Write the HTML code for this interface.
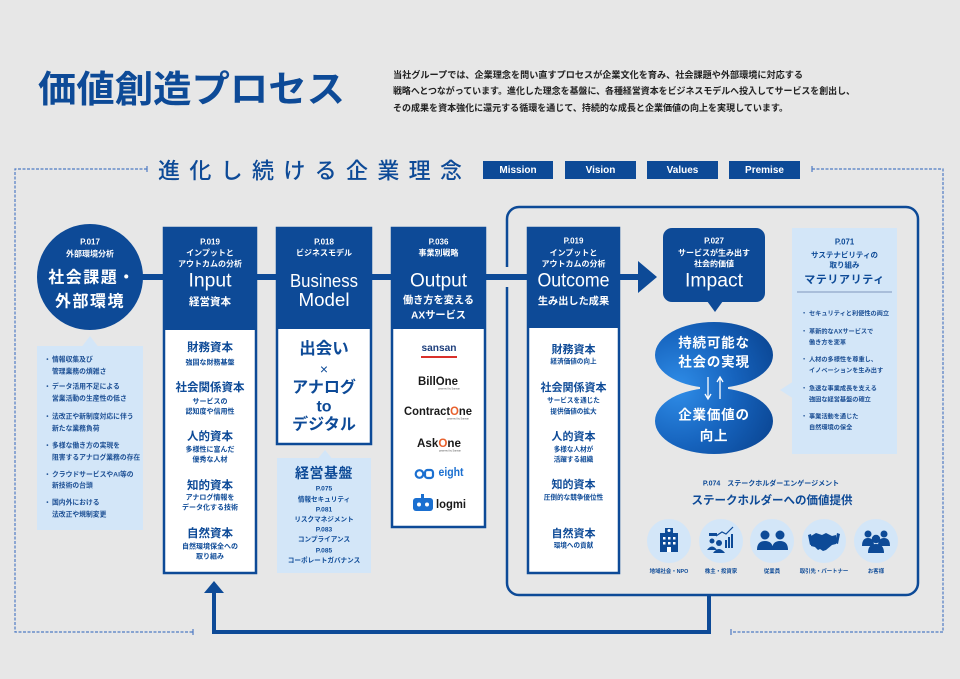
<!DOCTYPE html>
<html><head><meta charset="utf-8"><style>
html,body{margin:0;padding:0;background:#e7e7e7;}
svg{display:block;}
text{font-family:"Liberation Sans","Noto Sans CJK JP",sans-serif;}
.w{fill:#fff;}
.b{fill:#0d4a97;}
.c{text-anchor:middle;dominant-baseline:central;}
.s{text-anchor:start;dominant-baseline:central;}
.bold{font-weight:700;}
</style></head><body>
<svg width="960" height="679" viewBox="0 0 960 679" xmlns="http://www.w3.org/2000/svg">
<defs>
<radialGradient id="g1" gradientUnits="userSpaceOnUse" cx="678" cy="388" r="105">
<stop offset="0" stop-color="#2f8de8"/>
<stop offset="0.55" stop-color="#1663bd"/>
<stop offset="1" stop-color="#0b4795"/>
</radialGradient>
</defs>
<rect width="960" height="679" fill="#e7e7e7"/>

<!-- Title -->
<text x="38" y="102" font-size="37" font-weight="700" fill="#0d4a97" textLength="307" lengthAdjust="spacingAndGlyphs">価値創造プロセス</text>
<g font-size="9.3" font-weight="700" fill="#222">
<text x="393" y="75" dominant-baseline="central" textLength="410" lengthAdjust="spacingAndGlyphs">当社グループでは、企業理念を問い直すプロセスが企業文化を育み、社会課題や外部環境に対応する</text>
<text x="393" y="91" dominant-baseline="central" textLength="462" lengthAdjust="spacingAndGlyphs">戦略へとつながっています。進化した理念を基盤に、各種経営資本をビジネスモデルへ投入してサービスを創出し、</text>
<text x="393" y="108" dominant-baseline="central" textLength="395" lengthAdjust="spacingAndGlyphs">その成果を資本強化に還元する循環を通じて、持続的な成長と企業価値の向上を実現しています。</text>
</g>

<!-- dashed outer frame -->
<g fill="none" stroke="#4f7cc4" stroke-width="1.2" stroke-dasharray="3 1.5">
<polyline points="147,169 15,169 15,632 193,632"/>
<polyline points="812,169 943,169 943,632 731,632"/>
</g>
<g stroke="#4f7cc4" stroke-width="1.2">
<line x1="147" y1="166" x2="147" y2="172"/>
<line x1="812" y1="166" x2="812" y2="172"/>
<line x1="193" y1="629" x2="193" y2="635"/>
<line x1="731" y1="629" x2="731" y2="635"/>
</g>

<!-- 進化し続ける企業理念 -->
<text x="158" y="171" class="s" font-size="22" font-weight="500" fill="#0d4a97" textLength="304" lengthAdjust="spacing">進化し続ける企業理念</text>
<g>
<rect x="483" y="161" width="70" height="18" class="b"/>
<rect x="565" y="161" width="71" height="18" class="b"/>
<rect x="647" y="161" width="71" height="18" class="b"/>
<rect x="729" y="161" width="71" height="18" class="b"/>
<g font-size="10" font-weight="700" class="w">
<text x="518" y="170.5" class="c">Mission</text>
<text x="600.5" y="170.5" class="c">Vision</text>
<text x="682.5" y="170.5" class="c">Values</text>
<text x="764.5" y="170.5" class="c">Premise</text>
</g>
</g>

<!-- right solid frame -->
<rect x="507" y="207" width="411" height="388" rx="12" fill="none" stroke="#0d4a97" stroke-width="2.5"/>
<rect x="503" y="267" width="9" height="20" fill="#e7e7e7"/>

<!-- connectors -->
<g class="b">
<rect x="140" y="274" width="26" height="6"/>
<rect x="255" y="274" width="23" height="6"/>
<rect x="370" y="274" width="23" height="6"/>
<rect x="484" y="274" width="45" height="6"/>
<rect x="618" y="274" width="22" height="6"/>
<polygon points="638,261 638,293 657,277"/>
</g>

<!-- return loop -->
<g fill="none" stroke="#0d4a97" stroke-width="4">
<polyline points="709,595 709,632 214,632 214,591"/>
</g>
<polygon points="204,593 224,593 214,581" class="b"/>

<!-- Left circle -->
<circle cx="90" cy="277" r="53" class="b"/>
<g class="w bold">
<text x="90" y="242" class="c" font-size="8">P.017</text>
<text x="90" y="254" class="c" font-size="8">外部環境分析</text>
<text x="92" y="278" class="c" font-size="16" letter-spacing="1.5">社会課題・</text>
<text x="90" y="302" class="c" font-size="16" letter-spacing="1.5">外部環境</text>
</g>

<!-- left callout -->
<rect x="37" y="346" width="106" height="184" fill="#d3e6f8"/>
<polygon points="82,346.5 98,346.5 90,336" fill="#d3e6f8"/>
<g font-size="6.8" font-weight="700" fill="#1c4f94" class="s">
<text x="44" y="360" class="s">・</text><text x="52" y="360" class="s">情報収集及び</text>
<text x="52" y="372" class="s">管理業務の煩雑さ</text>
<text x="44" y="387" class="s">・</text><text x="52" y="387" class="s">データ活用不足による</text>
<text x="52" y="399" class="s">営業活動の生産性の低さ</text>
<text x="44" y="417" class="s">・</text><text x="52" y="417" class="s">法改正や新制度対応に伴う</text>
<text x="52" y="429" class="s">新たな業務負荷</text>
<text x="44" y="446" class="s">・</text><text x="52" y="446" class="s">多様な働き方の実現を</text>
<text x="52" y="458" class="s">阻害するアナログ業務の存在</text>
<text x="44" y="475" class="s">・</text><text x="52" y="475" class="s">クラウドサービスやAI等の</text>
<text x="52" y="486" class="s">新技術の台頭</text>
<text x="44" y="503" class="s">・</text><text x="52" y="503" class="s">国内外における</text>
<text x="52" y="515" class="s">法改正や規制変更</text>
</g>

<!-- Input column -->
<rect x="164" y="228" width="92" height="345" fill="#fff" stroke="#0d4a97" stroke-width="2.5"/>
<rect x="164" y="228" width="92" height="102" class="b"/>
<g class="w">
<text x="210" y="242" class="c bold" font-size="8">P.019</text>
<text x="210" y="253" class="c bold" font-size="8">インプットと</text>
<text x="210" y="264" class="c bold" font-size="8">アウトカムの分析</text>
<text x="210" y="281" class="c" font-size="19" textLength="43" lengthAdjust="spacingAndGlyphs">Input</text>
<text x="210" y="302" class="c bold" font-size="10.5">経営資本</text>
</g>
<g class="b bold">
<text x="210" y="348" class="c" font-size="11.5">財務資本</text>
<text x="210" y="363" class="c" font-size="7">強固な財務基盤</text>
<text x="210" y="388" class="c" font-size="11.5">社会関係資本</text>
<text x="210" y="402" class="c" font-size="7">サービスの</text>
<text x="210" y="412" class="c" font-size="7">認知度や信用性</text>
<text x="210" y="437" class="c" font-size="11.5">人的資本</text>
<text x="210" y="450" class="c" font-size="7">多様性に富んだ</text>
<text x="210" y="460" class="c" font-size="7">優秀な人材</text>
<text x="210" y="486" class="c" font-size="11.5">知的資本</text>
<text x="210" y="498" class="c" font-size="7">アナログ情報を</text>
<text x="210" y="508" class="c" font-size="7">データ化する技術</text>
<text x="210" y="534" class="c" font-size="11.5">自然資本</text>
<text x="210" y="547" class="c" font-size="7">自然環境保全への</text>
<text x="210" y="557" class="c" font-size="7">取り組み</text>
</g>

<!-- Business Model column -->
<rect x="277" y="228" width="94" height="216" fill="#fff" stroke="#0d4a97" stroke-width="2.5"/>
<rect x="277" y="228" width="94" height="101" class="b"/>
<g class="w">
<text x="324" y="242" class="c bold" font-size="8">P.018</text>
<text x="324" y="253" class="c bold" font-size="8">ビジネスモデル</text>
<text x="324" y="281" class="c" font-size="18" textLength="68" lengthAdjust="spacingAndGlyphs">Business</text>
<text x="324" y="300" class="c" font-size="18" textLength="51" lengthAdjust="spacingAndGlyphs">Model</text>
</g>
<g class="b bold">
<text x="324" y="349" class="c" font-size="16.5">出会い</text>
<text x="324" y="369" class="c" font-size="14" font-weight="400">×</text>
<text x="324" y="388" class="c" font-size="16">アナログ</text>
<text x="324" y="407" class="c" font-size="16">to</text>
<text x="324" y="425" class="c" font-size="16">デジタル</text>
</g>

<!-- 経営基盤 callout -->
<rect x="277" y="458" width="94" height="115" fill="#d3e6f8"/>
<polygon points="318,458.5 332,458.5 325,450" fill="#d3e6f8"/>
<g class="b bold">
<text x="324" y="473" class="c" font-size="14" letter-spacing="0.5">経営基盤</text>
<text x="324" y="489" class="c" font-size="6.6">P.075</text>
<text x="324" y="500" class="c" font-size="6.6">情報セキュリティ</text>
<text x="324" y="510" class="c" font-size="6.6">P.081</text>
<text x="324" y="520" class="c" font-size="6.6">リスクマネジメント</text>
<text x="324" y="530" class="c" font-size="6.6">P.083</text>
<text x="324" y="540" class="c" font-size="6.6">コンプライアンス</text>
<text x="324" y="551" class="c" font-size="6.6">P.085</text>
<text x="324" y="561" class="c" font-size="6.6">コーポレートガバナンス</text>
</g>

<!-- Output column -->
<rect x="392" y="228" width="93" height="299" fill="#fff" stroke="#0d4a97" stroke-width="2.5"/>
<rect x="392" y="228" width="93" height="101" class="b"/>
<g class="w">
<text x="438.5" y="242" class="c bold" font-size="8">P.036</text>
<text x="438.5" y="253" class="c bold" font-size="8">事業別戦略</text>
<text x="438.5" y="281" class="c" font-size="19" textLength="57" lengthAdjust="spacingAndGlyphs">Output</text>
<text x="438.5" y="301" class="c bold" font-size="10.2">働き方を変える</text>
<text x="438.5" y="316" class="c bold" font-size="10.2">AXサービス</text>
</g>
<!-- logos -->
<text x="439" y="348" class="c" font-size="10.5" font-weight="700" fill="#1d3e7c" textLength="35" lengthAdjust="spacingAndGlyphs">sansan</text>
<rect x="421" y="356" width="36" height="2" fill="#d9302a"/>
<text x="438" y="381" class="c" font-size="12" font-weight="700" fill="#1a1a1a" textLength="40" lengthAdjust="spacingAndGlyphs">Bill<tspan fill="#1a1a1a">One</tspan></text>
<text x="449" y="389" class="c" font-size="2.5" fill="#555">powered by Sansan</text>
<text x="438" y="411" class="c" font-size="12" font-weight="700" fill="#1a1a1a" textLength="68" lengthAdjust="spacingAndGlyphs">Contract<tspan fill="#e8602c">O</tspan>ne</text>
<text x="458" y="419" class="c" font-size="2.5" fill="#555">powered by Sansan</text>
<text x="439" y="443" class="c" font-size="12" font-weight="700" fill="#1a1a1a" textLength="44" lengthAdjust="spacingAndGlyphs">Ask<tspan fill="#e8602c">O</tspan>ne</text>
<text x="450" y="451" class="c" font-size="2.5" fill="#555">powered by Sansan</text>
<!-- eight -->
<g fill="none" stroke="#1a6fd0" stroke-width="2.2">
<circle cx="419.5" cy="474" r="3.8"/>
<rect x="425" y="470" width="8" height="8" rx="2.5"/>
</g>
<text x="451" y="473" class="c" font-size="11.5" font-weight="700" fill="#1a6fd0" textLength="25" lengthAdjust="spacingAndGlyphs">eight</text>
<!-- logmi -->
<rect x="413" y="498" width="20" height="13" rx="3" fill="#1a6fd0"/>
<rect x="421" y="494" width="3" height="4" fill="#1a6fd0"/>
<circle cx="419" cy="504.5" r="2" fill="#fff"/>
<circle cx="427" cy="504.5" r="2" fill="#fff"/>
<text x="451" y="504" class="c" font-size="12" font-weight="700" fill="#1a1a1a" textLength="30" lengthAdjust="spacingAndGlyphs">logmi</text>

<!-- Outcome column -->
<rect x="528" y="228" width="91" height="345" fill="#fff" stroke="#0d4a97" stroke-width="2.5"/>
<rect x="528" y="228" width="91" height="100" class="b"/>
<g class="w">
<text x="573.5" y="241" class="c bold" font-size="8">P.019</text>
<text x="573.5" y="253" class="c bold" font-size="8">インプットと</text>
<text x="573.5" y="264" class="c bold" font-size="8">アウトカムの分析</text>
<text x="573.5" y="281" class="c" font-size="19" textLength="72" lengthAdjust="spacingAndGlyphs">Outcome</text>
<text x="573.5" y="302" class="c bold" font-size="10.2">生み出した成果</text>
</g>
<g class="b bold">
<text x="573.5" y="350" class="c" font-size="11">財務資本</text>
<text x="573.5" y="362" class="c" font-size="6.6">経済価値の向上</text>
<text x="573.5" y="388" class="c" font-size="11">社会関係資本</text>
<text x="573.5" y="401" class="c" font-size="6.6">サービスを通じた</text>
<text x="573.5" y="412" class="c" font-size="6.6">提供価値の拡大</text>
<text x="573.5" y="437" class="c" font-size="11">人的資本</text>
<text x="573.5" y="450" class="c" font-size="6.6">多様な人材が</text>
<text x="573.5" y="460" class="c" font-size="6.6">活躍する組織</text>
<text x="573.5" y="485" class="c" font-size="11">知的資本</text>
<text x="573.5" y="498" class="c" font-size="6.6">圧倒的な競争優位性</text>
<text x="573.5" y="534" class="c" font-size="11">自然資本</text>
<text x="573.5" y="546" class="c" font-size="6.6">環境への貢献</text>
</g>

<!-- Impact -->
<rect x="663" y="228" width="102" height="74" rx="9" class="b"/>
<polygon points="707,301 723,301 715,312" class="b"/>
<g class="w">
<text x="714" y="241" class="c bold" font-size="8">P.027</text>
<text x="714" y="253" class="c bold" font-size="8">サービスが生み出す</text>
<text x="714" y="264" class="c bold" font-size="8">社会的価値</text>
<text x="714" y="281" class="c" font-size="19" textLength="58" lengthAdjust="spacingAndGlyphs">Impact</text>
</g>

<!-- ellipses -->
<ellipse cx="714" cy="355" rx="59" ry="33" fill="url(#g1)"/>
<ellipse cx="714" cy="421" rx="59" ry="33" fill="url(#g1)"/>
<rect x="700" y="375" width="28" height="26" fill="url(#g1)"/>
<g class="w bold">
<text x="714" y="343" class="c" font-size="13.5" letter-spacing="0.8">持続可能な</text>
<text x="714" y="362" class="c" font-size="13.5" letter-spacing="0.8">社会の実現</text>
<text x="714" y="415" class="c" font-size="13.5" letter-spacing="0.8">企業価値の</text>
<text x="714" y="436" class="c" font-size="13.5" letter-spacing="0.8">向上</text>
</g>
<g stroke="#fff" stroke-width="1.3" fill="none">
<line x1="708" y1="377" x2="708" y2="398"/>
<polyline points="705,394 708,399 711,394"/>
<line x1="720" y1="378" x2="720" y2="399"/>
<polyline points="717,382 720,377 723,382"/>
</g>

<!-- Materiality callout -->
<rect x="792" y="228" width="105" height="226" fill="#d3e6f8"/>
<polygon points="792.5,382 792.5,398 780,390" fill="#d3e6f8"/>
<g class="b bold">
<text x="844.5" y="242" class="c" font-size="7.8">P.071</text>
<text x="844.5" y="255" class="c" font-size="7.5">サステナビリティの</text>
<text x="844.5" y="265" class="c" font-size="7.5">取り組み</text>
<text x="844.5" y="280" class="c" font-size="11" letter-spacing="0.6">マテリアリティ</text>
</g>
<line x1="797" y1="292" x2="892" y2="292" stroke="#7f97bd" stroke-width="1"/>
<g font-size="6.2" font-weight="700" fill="#1c4f94">
<text x="801" y="314" class="s">・</text><text x="809" y="314" class="s">セキュリティと利便性の両立</text>
<text x="801" y="332" class="s">・</text><text x="809" y="332" class="s">革新的なAXサービスで</text>
<text x="809" y="343" class="s">働き方を変革</text>
<text x="801" y="360" class="s">・</text><text x="809" y="360" class="s">人材の多様性を尊重し、</text>
<text x="809" y="371" class="s">イノベーションを生み出す</text>
<text x="801" y="389" class="s">・</text><text x="809" y="389" class="s">急速な事業成長を支える</text>
<text x="809" y="400" class="s">強固な経営基盤の確立</text>
<text x="801" y="417" class="s">・</text><text x="809" y="417" class="s">事業活動を通じた</text>
<text x="809" y="428" class="s">自然環境の保全</text>
</g>

<!-- Stakeholders -->
<text x="771" y="484" class="c b bold" font-size="7">P.074　ステークホルダーエンゲージメント</text>
<text x="772" y="501" class="c b bold" font-size="11.5">ステークホルダーへの価値提供</text>
<g fill="#d3e6f8">
<circle cx="669" cy="541" r="22"/>
<circle cx="721" cy="541" r="22"/>
<circle cx="772" cy="541" r="22"/>
<circle cx="824" cy="541" r="22"/>
<circle cx="876" cy="541" r="22"/>
</g>
<g class="b">
<!-- building -->
<rect x="660" y="533" width="18" height="19"/>
<rect x="665" y="528" width="8" height="6"/>
<circle cx="669" cy="530.5" r="1.5" fill="#fff"/>
<g fill="#fff">
<rect x="663" y="537" width="2.5" height="2.5"/><rect x="668" y="537" width="2.5" height="2.5"/><rect x="673" y="537" width="2.5" height="2.5"/>
<rect x="663" y="542" width="2.5" height="2.5"/><rect x="668" y="542" width="2.5" height="2.5"/><rect x="673" y="542" width="2.5" height="2.5"/>
<rect x="667" y="547" width="4" height="5"/>
</g>
<!-- chart people -->
<rect x="709" y="533" width="8" height="3"/>
<circle cx="712" cy="541" r="2.5"/>
<path d="M707,550 q5,-7 10,0 z"/>
<circle cx="719" cy="543" r="3"/>
<path d="M713,553 q6,-8 12,0 z"/>
<rect x="725" y="540" width="2" height="8"/><rect x="728" y="537" width="2" height="11"/><rect x="731" y="534" width="2" height="14"/>
<polyline points="716,536 722,532 726,534 733,527" fill="none" stroke="#0d4a97" stroke-width="1.2"/>
<!-- two people -->
<circle cx="765" cy="535" r="4.5"/>
<circle cx="780" cy="535" r="4.5"/>
<path d="M757,550 q0,-9 8,-9 q8,0 8,9 z"/>
<path d="M772,550 q0,-9 8,-9 q8,0 8,9 z"/>
<!-- handshake -->
<path d="M811,536 l5,-3 l6,2 l4,-2 l6,3 l4,-1 l0,9 l-4,1 l-6,5 l-3,1 l-3,-2 l-2,1 l-3,-3 l-4,-1 z"/>
<path d="M808,535 l3,-1 l2,10 l-3,1 z"/>
<path d="M840,534 l-3,-1 l-2,10 l3,1 z"/>
<!-- group -->
<circle cx="868" cy="534" r="3.5"/>
<circle cx="884" cy="534" r="3.5"/>
<path d="M862,546 q0,-8 6,-8 q6,0 6,8 z"/>
<path d="M878,546 q0,-8 6,-8 q6,0 6,8 z"/>
<circle cx="876" cy="539" r="4.2"/>
<path d="M868,553 q0,-9 8,-9 q8,0 8,9 z"/>
</g>
<g class="b bold" font-size="5.4">
<text x="669" y="572" class="c">地域社会・NPO</text>
<text x="721" y="572" class="c">株主・投資家</text>
<text x="772" y="572" class="c">従業員</text>
<text x="824" y="572" class="c">取引先・パートナー</text>
<text x="876" y="572" class="c">お客様</text>
</g>
</svg>
</body></html>
